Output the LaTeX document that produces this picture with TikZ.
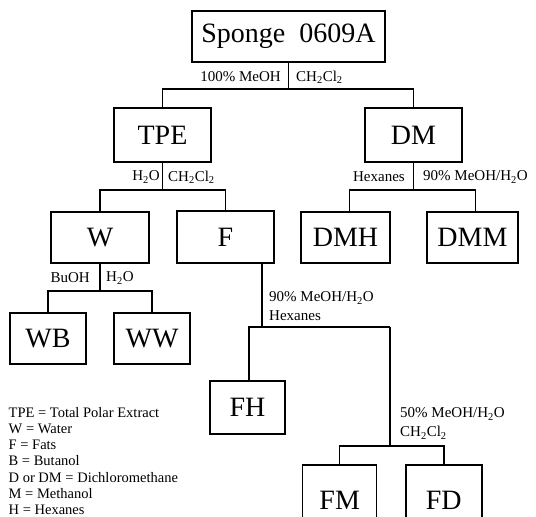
\documentclass[tikz,border=0pt]{standalone}
\usepackage{fontspec}
\setmainfont{Liberation Serif}
\usepackage{tikz}
\usetikzlibrary{positioning}

\tikzset{
  fraction/.style={draw=black,line width=1.5pt,minimum width=#1,minimum height=51pt,inner sep=0pt,font=\fontsize{28}{32}\selectfont},
  solvent/.style={inner sep=0pt,font=\fontsize{15}{19}\selectfont,align=left},
  split/.style={draw=black,line width=1.5pt,line join=miter}
}

\begin{document}
\begin{tikzpicture}[x=1pt,y=-1pt]
		\path[use as bounding box,clip] (0,0) rectangle (536,517);
		% the fractions
		\node[fraction=193pt] (sponge) at (288.5,36.5) {Sponge\ \ 0609A};
		\node[fraction=97pt,minimum height=54pt] (tpe) at (162.5,135) {TPE};
		\node[fraction=97pt,minimum height=54pt] (dm) at (413.5,135) {DM};
		\node[fraction=98pt] (w) at (100,237.5) {W};
		\node[fraction=97pt,minimum height=52pt] (f) at (225.5,237) {F};
		\node[fraction=89pt] (dmh) at (345.5,237.5) {DMH};
		\node[fraction=91pt] (dmm) at (472.5,237.5) {DMM};
		\node[fraction=76pt] (wb) at (48,338.5) {WB};
		\node[fraction=76pt] (ww) at (152,338.5) {WW};
		\node[fraction=75pt,minimum height=53pt] (fh) at (247.5,407.5) {FH};
		\node[fraction=74pt,minimum height=70pt] (fm) at (339.7,500) {FM};
		\node[fraction=76pt,minimum height=70pt] (fd) at (443.8,500) {FD};
		%% the splits
		\coordinate (topj) at (288.5,89);
		\draw[split] (sponge.south) -- (topj);
		\draw[split] (tpe.north) |- (topj) -| (dm.north);
		\coordinate (tpej) at (162.5,190);
		\draw[split] (tpe.south) -- (tpej);
		\draw[split] (w.north) |- (tpej) -| (f.north);
		\coordinate (dmj) at (413.5,190);
		\draw[split] (dm.south) -- (dmj);
		\draw[split] ([xshift=4pt]dmh.north) |- (dmj) -| ([xshift=3pt]dmm.north);
		\coordinate (wj) at (100,291);
		\draw[split] (w.south) -- (wj);
		\draw[split] (wb.north) |- (wj) -| (ww.north);
		\coordinate (fj) at (262,327);
		\coordinate (fk) at (390,327);
		\draw[split] (f.south -| fj) -- (fj);
		\draw[split] ([xshift=1.5pt]fh.north) |- (fk);
		\coordinate (fkj) at (390,446);
		\draw[split] (fk) -- (fkj);
		\draw[split] (fm.north) |- (fkj) -| (fd.north);
		%% the solvents
		\node[solvent,anchor=east] (meoh) at (281,77) {100\% MeOH};
		\node[solvent,anchor=west] (dcm) at (296,77) {CH\textsubscript{2}Cl\textsubscript{2}};
		\node[solvent,anchor=east] (tpewater) at (160,177) {H\textsubscript{2}O};
		\node[solvent,anchor=west] (tpedcm) at (168,177) {CH\textsubscript{2}Cl\textsubscript{2}};
		\node[solvent,anchor=east] (dmhex) at (405,177) {Hexanes};
		\node[solvent,anchor=west] (dmmeoh) at (423,177) {90\% MeOH/H\textsubscript{2}O};
		\node[solvent,anchor=east] (wbuoh) at (90,278) {BuOH};
		\node[solvent,anchor=west] (wwater) at (106,278) {H\textsubscript{2}O};
		\node[solvent,anchor=west] (fhex) at (269,306.5) {90\% MeOH/H\textsubscript{2}O\\Hexanes};
		\node[solvent,anchor=west] (fdcm) at (400,423.5) {50\% MeOH/H\textsubscript{2}O\\CH\textsubscript{2}Cl\textsubscript{2}};
		%% the key
		\node[solvent,font=\fontsize{14.5}{16.2}\selectfont,anchor=north west] (key) at (8.5,407) {TPE = Total Polar Extract\\W = Water\\F = Fats\\B = Butanol\\D or DM = Dichloromethane\\M = Methanol\\H = Hexanes};
\end{tikzpicture}
\end{document}
